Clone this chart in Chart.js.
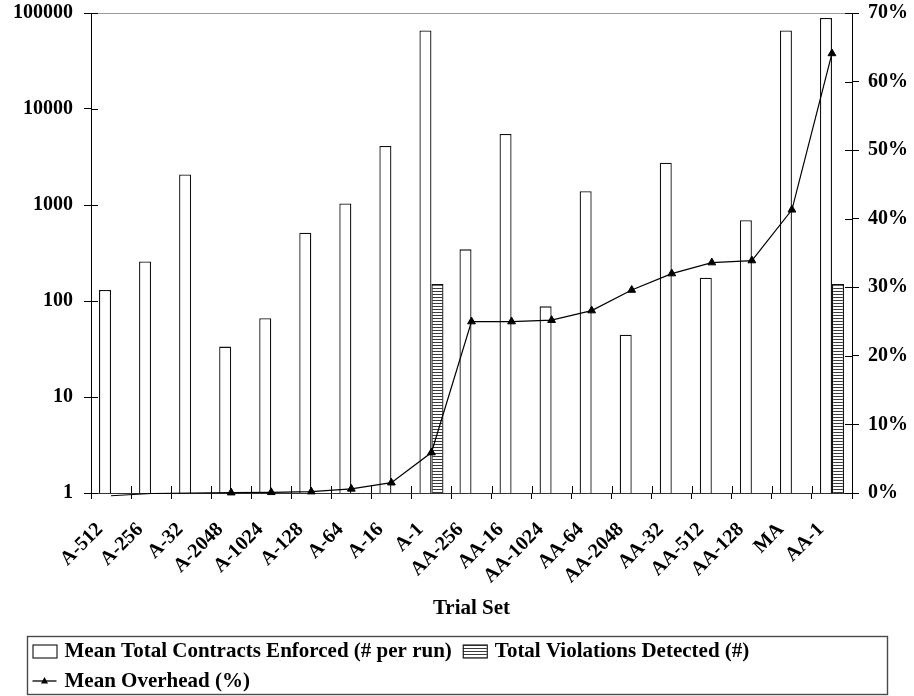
<!DOCTYPE html>
<html>
<head>
<meta charset="utf-8">
<script src="https://cdn.jsdelivr.net/npm/chart.js@4/dist/chart.umd.min.js"></script>
<style>
  html, body { margin: 0; padding: 0; background: #fff; }
  #wrap { width: 914px; height: 696px; }
</style>
</head>
<body>
<div id="wrap"><canvas id="chart" width="914" height="696"></canvas></div>
<script>
// Trial sets, in plotting order
const trialSets = ['A-512', 'A-256', 'A-32', 'A-2048', 'A-1024', 'A-128', 'A-64', 'A-16', 'A-1',
                   'AA-256', 'AA-16', 'AA-1024', 'AA-64', 'AA-2048', 'AA-32', 'AA-512', 'AA-128', 'MA', 'AA-1'];

// Mean total contracts enforced per run (log axis)
const contractsEnforced = [130, 258, 2080, 33.5, 66, 515, 1035, 4120, 65800,
                           345, 5500, 88, 1390, 44.5, 2760, 175, 693, 65800, 88700];

// Total violations detected (only two trial sets report any)
const violationsDetected = [null, null, null, null, null, null, null, null, 150,
                            null, null, null, null, null, null, null, null, null, 150];

// Mean overhead, percent (right axis)
const overheadPct = [-0.4, -0.07, 0.0, 0.05, 0.1, 0.2, 0.6, 1.5, 5.9,
                     25.0, 25.0, 25.2, 26.6, 29.6, 32.0, 33.6, 33.9, 41.3, 64.1];

// Axis tick values
const contractTicks = [1, 10, 100, 1000, 10000, 100000];
const overheadTicks = [0, 10, 20, 30, 40, 50, 60, 70];

const SERIF = '"Liberation Serif", "Times New Roman", serif';

function hatchPattern() {
  const c = document.createElement('canvas');
  c.width = 6; c.height = 3;
  const g = c.getContext('2d');
  g.fillStyle = '#fff'; g.fillRect(0, 0, 6, 3);
  g.fillStyle = '#3a3a3a'; g.fillRect(0, 0, 6, 1);
  return g.createPattern(c, 'repeat');
}
const hatch = hatchPattern();

// Tick marks that cross the axis line: Chart.js draws the outer half, this draws the inner half
const crossTicks = {
  id: 'crossTicks',
  afterDraw(chart) {
    const { ctx, chartArea: a, scales } = chart;
    const len = 7;
    ctx.save();
    ctx.strokeStyle = '#000';
    ctx.lineWidth = 1;
    ctx.beginPath();
    scales.y.ticks.forEach(t => {
      const y = Math.round(scales.y.getPixelForValue(t.value)) + 0.5;
      ctx.moveTo(a.left, y); ctx.lineTo(a.left + len, y);
    });
    scales.y1.ticks.forEach(t => {
      const y = Math.round(scales.y1.getPixelForValue(t.value)) + 0.5;
      ctx.moveTo(a.right - len, y); ctx.lineTo(a.right, y);
    });
    for (let i = 0; i <= trialSets.length; i++) {
      const x = Math.round(scales.x.getPixelForValue(i - 0.5)) + 0.5;
      ctx.moveTo(x, a.bottom - len); ctx.lineTo(x, a.bottom);
    }
    ctx.stroke();
    ctx.restore();
  }
};

// Framed legend: two bar keys on the first row, the overhead line on the second
function drawKey(ctx, ds, x, cy) {
  ctx.save();
  if (ds.type === 'line') {
    ctx.strokeStyle = '#000'; ctx.lineWidth = 1.3;
    ctx.beginPath(); ctx.moveTo(x, cy); ctx.lineTo(x + 24, cy); ctx.stroke();
    ctx.fillStyle = '#000';
    ctx.beginPath();
    ctx.moveTo(x + 12, cy - 4); ctx.lineTo(x + 15.5, cy + 2.5); ctx.lineTo(x + 8.5, cy + 2.5);
    ctx.closePath(); ctx.fill();
  } else {
    ctx.fillStyle = ds.backgroundColor;
    ctx.fillRect(x, cy - 6.5, 24, 13);
    ctx.strokeStyle = '#222'; ctx.lineWidth = 1.2;
    ctx.strokeRect(x + 0.5, cy - 6, 24, 13);
  }
  ctx.restore();
}

const framedLegend = {
  id: 'framedLegend',
  afterDraw(chart) {
    const ctx = chart.ctx;
    const top = Math.round(chart.scales.x.bottom) - 0.5;
    const bottom = chart.height - 1.5;
    const left = 27.5, right = 887.5;
    ctx.save();
    ctx.strokeStyle = '#4a4a4a';
    ctx.lineWidth = 1.4;
    ctx.strokeRect(left, top, right - left, bottom - top);
    const ds = chart.data.datasets;
    const rows = [[ds[1], ds[2]], [ds[0]]];
    ctx.font = 'bold 21px ' + SERIF;
    ctx.textBaseline = 'middle';
    ctx.fillStyle = '#000';
    rows.forEach((row, r) => {
      const cy = top + 14.5 + r * 30;
      let x = left + 5;
      row.forEach(d => {
        drawKey(ctx, d, x, cy);
        x += 32;
        ctx.fillText(d.label, x, cy + 1);
        x += ctx.measureText(d.label).width + 11;
      });
    });
    ctx.restore();
  }
};

// Keep the plot area edge where the layout padding puts it (labels may overhang)
function noEdgePadding(s) {
  s.paddingTop = 0;
  s.paddingBottom = 0;
}

new Chart(document.getElementById('chart'), {
  data: {
    labels: trialSets,
    datasets: [
      {
        type: 'line',
        label: 'Mean Overhead (%)',
        data: overheadPct,
        yAxisID: 'y1',
        borderColor: '#000',
        borderWidth: 1.2,
        tension: 0,
        pointStyle: 'triangle',
        pointRadius: c => (c.raw > 0 ? 4.5 : 0),
        pointBackgroundColor: '#000',
        pointBorderColor: '#000',
        pointBorderWidth: 1,
        clip: false,
        order: 0
      },
      {
        type: 'bar',
        label: 'Mean Total Contracts Enforced (# per run)',
        data: contractsEnforced,
        yAxisID: 'y',
        backgroundColor: '#fff',
        borderColor: '#111',
        borderWidth: 1.3,
        categoryPercentage: 0.6,
        barPercentage: 1,
        order: 1
      },
      {
        type: 'bar',
        label: 'Total Violations Detected (#)',
        data: violationsDetected,
        yAxisID: 'y',
        backgroundColor: hatch,
        borderColor: '#111',
        borderWidth: 1.3,
        categoryPercentage: 0.6,
        barPercentage: 1,
        order: 2
      }
    ]
  },
  options: {
    responsive: false,
    animation: false,
    devicePixelRatio: 1,
    layout: { padding: { top: 13, bottom: 59, left: 0, right: 0 } },
    plugins: {
      legend: { display: false },
      tooltip: { enabled: false }
    },
    scales: {
      x: {
        type: 'category',
        offset: true,
        grid: { offset: true, drawOnChartArea: false, drawTicks: true, tickLength: 6, tickColor: '#000', tickWidth: 1 },
        border: { color: '#333', width: 1 },
        ticks: {
          autoSkip: false, minRotation: 45, maxRotation: 45, padding: 19, labelOffset: -11,
          color: '#000', font: { family: SERIF, size: 20, weight: 'bold' }
        },
        title: {
          display: true, text: 'Trial Set', color: '#000',
          font: { family: SERIF, size: 21, weight: 'bold' },
          padding: { top: 0, bottom: 16 }
        },
        afterFit(s) { s.height = 144; }
      },
      y: {
        type: 'logarithmic',
        position: 'left',
        min: 1,
        max: 100000,
        afterBuildTicks(s) { s.ticks = contractTicks.map(v => ({ value: v })); },
        grid: {
          drawTicks: true, tickLength: 7, tickColor: '#000', tickWidth: 1,
          color: c => (c.tick && c.tick.value === 100000 ? '#9a9a9a' : 'rgba(0,0,0,0)'),
          lineWidth: 1
        },
        border: { color: '#000', width: 1 },
        ticks: {
          padding: 11, color: '#000',
          font: { family: SERIF, size: 20, weight: 'bold' },
          callback: v => String(v)
        },
        afterFit(s) { s.width = 91; noEdgePadding(s); }
      },
      y1: {
        type: 'linear',
        position: 'right',
        min: 0,
        max: 70,
        afterBuildTicks(s) { s.ticks = overheadTicks.map(v => ({ value: v })); },
        grid: { drawOnChartArea: false, drawTicks: true, tickLength: 7, tickColor: '#000', tickWidth: 1 },
        border: { color: '#000', width: 1 },
        ticks: {
          padding: 9, color: '#000',
          font: { family: SERIF, size: 20, weight: 'bold' },
          callback: v => v + '%'
        },
        afterFit(s) { s.width = 62; noEdgePadding(s); }
      }
    }
  },
  plugins: [crossTicks, framedLegend]
});
</script>
</body>
</html>
